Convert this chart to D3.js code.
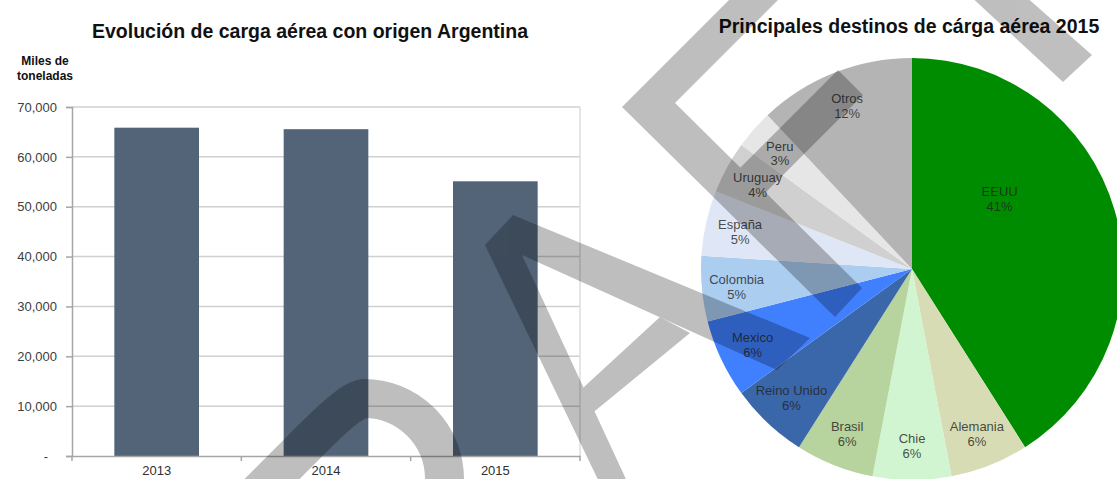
<!DOCTYPE html>
<html>
<head>
<meta charset="utf-8">
<script src="https://cdn.jsdelivr.net/npm/d3@7"></script>
<style>
  body { margin: 0; background: #fff; }
  svg text { font-family: "Liberation Sans", Arial, sans-serif; }
</style>
</head>
<body>
<svg id="chart" width="1117" height="479"></svg>
<script>
// bar chart: miles de toneladas
var years = ["2013", "2014", "2015"];
var tonnes = [65850, 65550, 55100];
var yTicks = [0, 10000, 20000, 30000, 40000, 50000, 60000, 70000];

// pie chart: destinos 2015 (%)
var destinos = ["EEUU", "Alemania", "Chie", "Brasil", "Reino Unido", "Mexico",
                "Colombia", "España", "Uruguay", "Peru", "Otros"];
var shares = [41, 6, 6, 6, 6, 6, 5, 5, 4, 3, 12];

var sliceColors = ["#008c00", "#d7dcb4", "#d0f5d0", "#b7d39e", "#3a66aa", "#4080ff",
                   "#aacdf0", "#dfe6f5", "#d0d0d0", "#e6e6e6", "#b4b4b4"];

var svg = d3.select("#chart");

/* ---------- bar chart ---------- */
var plot = {left: 72, right: 580, top: 107, bottom: 456};

var x = d3.scaleBand().domain(years)
    .range([plot.left, plot.right])
    .paddingInner(0.5).paddingOuter(0.25);
var y = d3.scaleLinear().domain([0, 70000]).range([plot.bottom, plot.top]);

// gridlines
svg.append("g").selectAll("line")
    .data(yTicks.slice(1))
    .enter().append("line")
    .attr("x1", plot.left).attr("x2", plot.right)
    .attr("y1", function(d) { return y(d); })
    .attr("y2", function(d) { return y(d); })
    .attr("stroke", "#d0d0d0").attr("stroke-width", 1.5);

// right border of plot area
svg.append("line")
    .attr("x1", plot.right).attr("x2", plot.right)
    .attr("y1", plot.top).attr("y2", plot.bottom)
    .attr("stroke", "#dcdcdc").attr("stroke-width", 1.5);

// bars
svg.append("g").selectAll("rect")
    .data(tonnes)
    .enter().append("rect")
    .attr("x", function(d, i) { return x(years[i]); })
    .attr("y", function(d) { return y(d); })
    .attr("width", x.bandwidth())
    .attr("height", function(d) { return y(0) - y(d); })
    .attr("fill", "#536479");

// y axis
var yAxis = svg.append("g")
    .attr("transform", "translate(" + plot.left + ",0)")
    .call(d3.axisLeft(y).tickValues(yTicks).tickSize(6).tickPadding(9)
        .tickFormat(function(d) { return d === 0 ? "-" : d3.format(",")(d); }));
yAxis.select(".domain").attr("stroke", "#a6a6a6").attr("stroke-width", 1.5);
yAxis.selectAll(".tick line").attr("stroke", "#a6a6a6").attr("stroke-width", 1.5);
yAxis.selectAll(".tick text")
    .attr("fill", "#404040").style("font-size", "13px")
    .attr("dx", function(d) { return d === 0 ? -9 : 0; });

// x axis
var xAxis = svg.append("g")
    .attr("transform", "translate(0," + plot.bottom + ")")
    .call(d3.axisBottom(x).tickSize(0).tickPadding(10));
xAxis.select(".domain").attr("stroke", "#a6a6a6").attr("stroke-width", 1.5);
xAxis.selectAll(".tick text").attr("fill", "#303030").style("font-size", "13px");

// category boundary ticks
var step = x.step();
xAxis.selectAll(".sep")
    .data(d3.range(years.length + 1))
    .enter().append("line")
    .attr("x1", function(i) { return plot.left + i * step; })
    .attr("x2", function(i) { return plot.left + i * step; })
    .attr("y1", 0).attr("y2", 5)
    .attr("stroke", "#a6a6a6").attr("stroke-width", 1.5);

// titles
svg.append("text")
    .attr("x", 310).attr("y", 38)
    .attr("text-anchor", "middle")
    .style("font-size", "19.5px").style("font-weight", "bold")
    .attr("fill", "#111")
    .text("Evolución de carga aérea con origen Argentina");

svg.append("text")
    .attr("x", 45).attr("y", 65)
    .attr("text-anchor", "middle")
    .style("font-size", "12px").style("font-weight", "bold")
    .attr("fill", "#111")
    .selectAll("tspan")
    .data(["Miles de", "toneladas"])
    .enter().append("tspan")
    .attr("x", 45)
    .attr("dy", function(d, i) { return i === 0 ? 0 : 15; })
    .text(function(d) { return d; });

/* ---------- pie chart ---------- */
var cx = 912, cy = 269, R = 211;

svg.append("text")
    .attr("x", 909).attr("y", 33)
    .attr("text-anchor", "middle")
    .style("font-size", "19.5px").style("font-weight", "bold")
    .attr("fill", "#111")
    .text("Principales destinos de cárga aérea 2015");

var pieData = d3.pie().sort(null).value(function(d) { return d; })(shares);
var arc = d3.arc().innerRadius(0).outerRadius(R);

var pg = svg.append("g").attr("transform", "translate(" + cx + "," + cy + ")");

pg.selectAll("path")
    .data(pieData)
    .enter().append("path")
    .attr("d", arc)
    .attr("fill", function(d, i) { return sliceColors[i]; });

var maxShare = d3.max(shares);
function labelPos(d) {
  var a, r;
  if (d.data === maxShare) {
    a = d.startAngle + (d.endAngle - d.startAngle) * 0.345;
    r = R * 0.535;
  } else {
    a = (d.startAngle + d.endAngle) / 2;
    r = R * 0.835;
  }
  return [Math.sin(a) * r, -Math.cos(a) * r];
}

var labels = pg.selectAll(".lbl")
    .data(pieData)
    .enter().append("text")
    .attr("class", "lbl")
    .attr("text-anchor", "middle")
    .style("font-size", "13px")
    .attr("fill", "#222").attr("fill-opacity", 0.8)
    .attr("transform", function(d) {
      var p = labelPos(d);
      return "translate(" + p[0] + "," + p[1] + ")";
    });
labels.append("tspan").attr("x", 0).attr("dy", "-0.15em")
    .text(function(d, i) { return destinos[i]; });
labels.append("tspan").attr("x", 0).attr("dy", "1.15em")
    .text(function(d) { return d.data + "%"; });

/* ---------- "DRAFT" watermark overlay ---------- */
var wm = svg.append("g").attr("opacity", 0.25);
// D
wm.append("path")
    .attr("d", "M225,526 L315,436 Q352.5,398.5 364,398.5 A80.5,80.5 0 0 1 444.5,479 L444.5,520")
    .attr("fill", "none").attr("stroke", "#000").attr("stroke-width", 39);
// A (two legs + crossbar), F (stem + bars), T (stem)
var wmShapes = [
  "M603,490 L485,245 L513,215 L810,338 L777,370 L522,255 L631,490 Z",
  "M660,317 L690,333 L590,415 L572,398 Z",
  "M749,-20 L622,107 L835,317 L862,288 L675,103 L798,-20 Z",
  "M838,70 L863,95 L760,198 L735,173 Z",
  "M953,-20 L1063,82 L1092,55 L1007,-20 Z"
];
wm.selectAll(".wm")
    .data(wmShapes)
    .enter().append("path")
    .attr("d", function(d) { return d; })
    .attr("fill", "#000");
</script>
</body>
</html>
